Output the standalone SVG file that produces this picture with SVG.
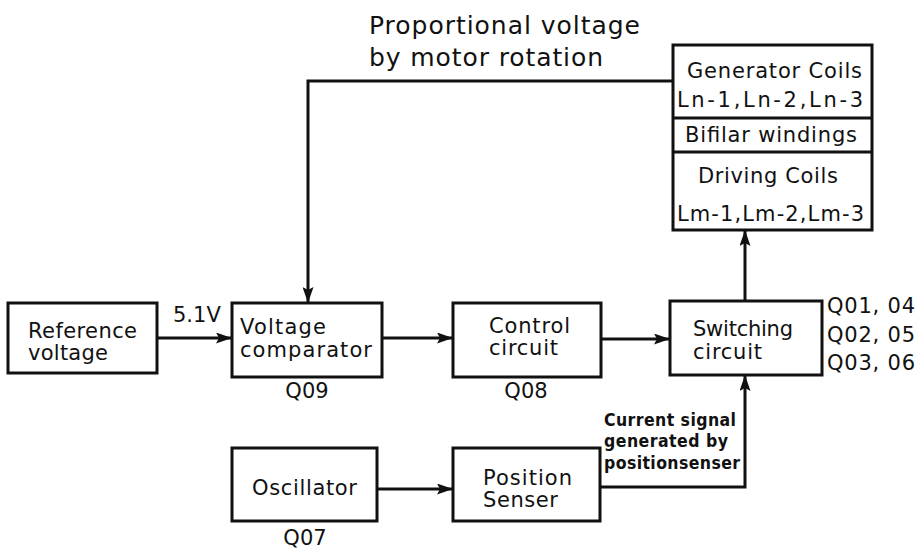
<svg xmlns="http://www.w3.org/2000/svg" width="919" height="550" viewBox="0 0 919 550">
<style>
.box{fill:#fff;stroke:#111;stroke-width:3}
.ln{fill:none;stroke:#111;stroke-width:3}
text{font-family:"DejaVu Sans","Liberation Sans",sans-serif;fill:#111;font-size:21px}
.big{font-size:25px}
.cs{font-family:"DejaVu Sans Condensed","Liberation Sans",sans-serif;font-size:17.5px;font-weight:bold}
.c{text-anchor:middle}
</style>
<defs>
<marker id="ah" viewBox="0 0 16 11" refX="15" refY="5.5" markerWidth="16" markerHeight="11" markerUnits="userSpaceOnUse" orient="auto">
<path d="M0,0 L16,5.5 L0,11 L3,5.5 Z" fill="#111"/>
</marker>
</defs>
<rect width="919" height="550" fill="#fff"/>
<g id="connectors">
<path class="ln" d="M157,338 H231" marker-end="url(#ah)"/>
<path class="ln" d="M382,338 H452" marker-end="url(#ah)"/>
<path class="ln" d="M601,339 H669" marker-end="url(#ah)"/>
<path class="ln" d="M745,301 V231" marker-end="url(#ah)"/>
<path class="ln" d="M673,81 H308 V302" marker-end="url(#ah)"/>
<path class="ln" d="M377,489 H452" marker-end="url(#ah)"/>
<path class="ln" d="M600,487 H745 V376" marker-end="url(#ah)"/>
</g>
<g id="label-feedback">
<text class="big" x="369" y="34" textLength="271">Proportional voltage</text>
<text class="big" x="369" y="66" textLength="234">by motor rotation</text>
</g>
<g id="coils">
<rect class="box" x="673" y="45" width="199" height="185"/>
<line class="ln" x1="673" y1="118" x2="872" y2="118"/>
<line class="ln" x1="673" y1="152" x2="872" y2="152"/>
<text x="687" y="78" textLength="175">Generator Coils</text>
<text x="677" y="107" textLength="186">Ln-1,Ln-2,Ln-3</text>
<text x="685" y="142" textLength="172">Bifilar windings</text>
<text x="698" y="183" textLength="140">Driving Coils</text>
<text x="677" y="221" textLength="187">Lm-1,Lm-2,Lm-3</text>
</g>
<g id="reference">
<rect class="box" x="8" y="303" width="149" height="70"/>
<text x="28" y="338" textLength="109">Reference</text>
<text x="28" y="360" textLength="80">voltage</text>
</g>
<text x="173" y="322" font-size="20">5.1V</text>
<g id="comparator">
<rect class="box" x="232" y="303" width="150" height="74"/>
<text x="240" y="334" textLength="86">Voltage</text>
<text x="240" y="357" textLength="132">comparator</text>
<text class="c" x="307" y="398">Q09</text>
</g>
<g id="control">
<rect class="box" x="453" y="303" width="148" height="74"/>
<text x="489" y="333" textLength="81">Control</text>
<text x="489" y="355" textLength="69">circuit</text>
<text class="c" x="526" y="398">Q08</text>
</g>
<g id="switching">
<rect class="box" x="670" y="301" width="152" height="74"/>
<text x="693" y="336" textLength="100">Switching</text>
<text x="693" y="359" textLength="69">circuit</text>
<text x="827" y="313" textLength="88">Q01, 04</text>
<text x="827" y="342" textLength="88">Q02, 05</text>
<text x="827" y="370" textLength="88">Q03, 06</text>
</g>
<g id="oscillator">
<rect class="box" x="232" y="448" width="145" height="73"/>
<text x="252" y="495" textLength="105">Oscillator</text>
<text class="c" x="305" y="545">Q07</text>
</g>
<g id="position">
<rect class="box" x="453" y="448" width="147" height="73"/>
<text x="483" y="485" textLength="89">Position</text>
<text x="483" y="507" textLength="75">Senser</text>
</g>
<g id="label-current">
<text class="cs" x="604" y="426" textLength="132">Current signal</text>
<text class="cs" x="604" y="447" textLength="124">generated by</text>
<text class="cs" x="604" y="469" textLength="136">positionsenser</text>
</g>
</svg>
